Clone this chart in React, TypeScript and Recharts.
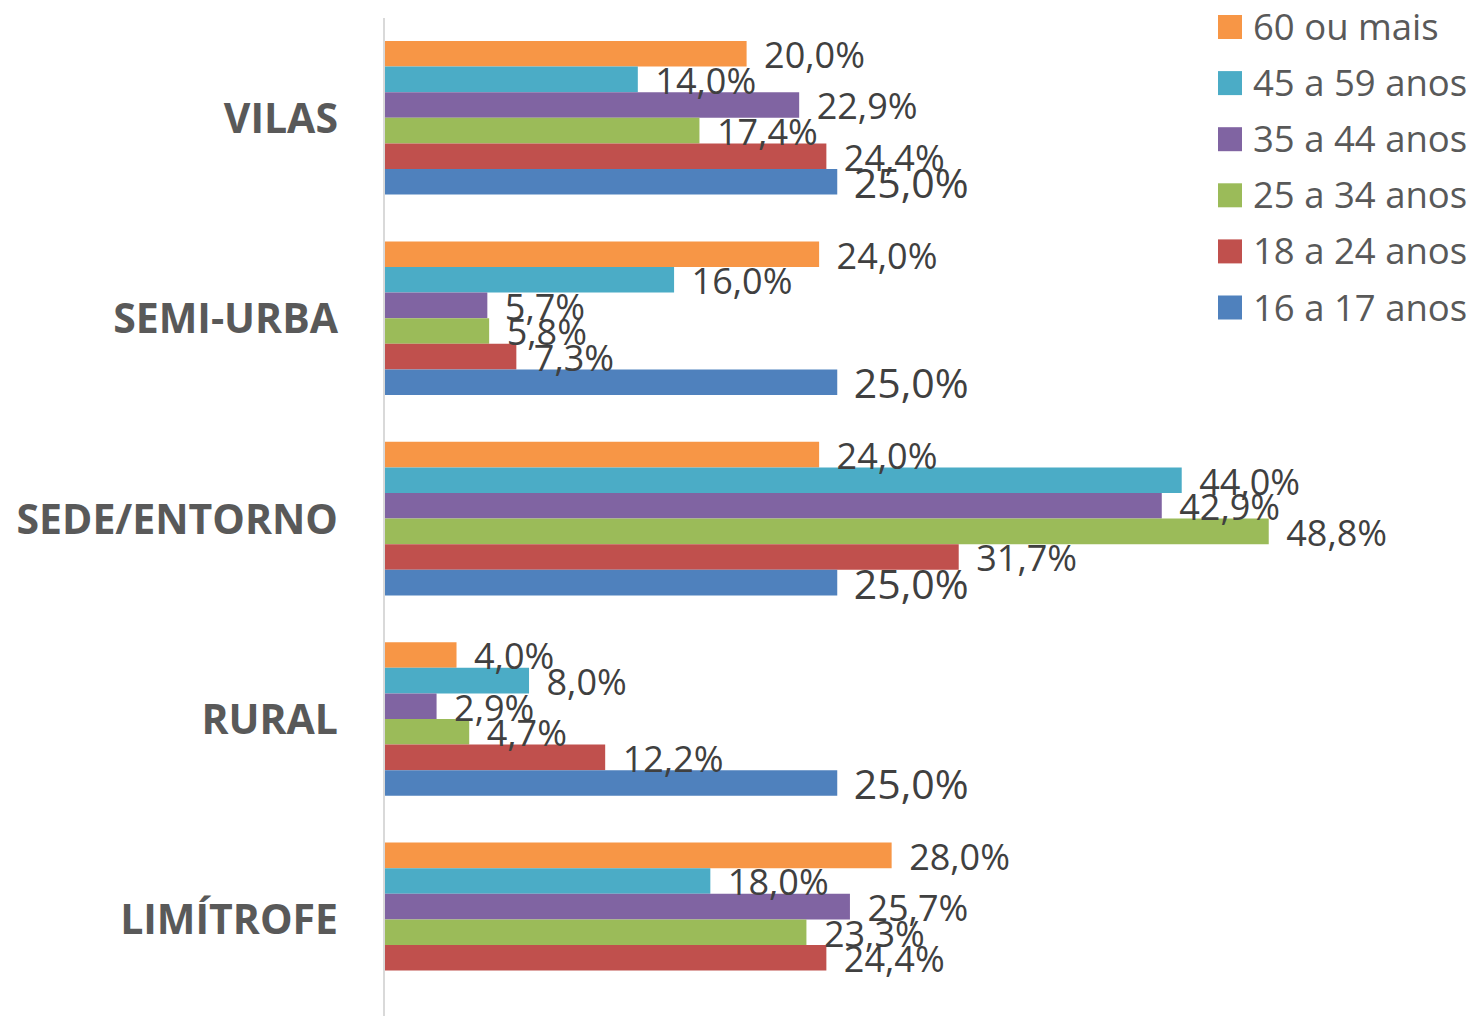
import React from 'react';
import { BarChart, Bar, XAxis, YAxis, LabelList } from 'recharts';

const categories = ['VILAS', 'SEMI-URBA', 'SEDE/ENTORNO', 'RURAL', 'LIMÍTROFE'];

const seriesNames = ['60 ou mais', '45 a 59 anos', '35 a 44 anos', '25 a 34 anos', '18 a 24 anos', '16 a 17 anos'];
const seriesKeys = ['s60', 's45', 's35', 's25', 's18', 's16'];
const seriesColors = ['#F79646', '#4BACC6', '#8064A2', '#9BBB59', '#C0504D', '#4F81BD'];

const s60 = [20.0, 24.0, 24.0, 4.0, 28.0];
const s45 = [14.0, 16.0, 44.0, 8.0, 18.0];
const s35 = [22.9, 5.7, 42.9, 2.9, 25.7];
const s25 = [17.4, 5.8, 48.8, 4.7, 23.3];
const s18 = [24.4, 7.3, 31.7, 12.2, 24.4];
const s16 = [25.0, 25.0, 25.0, 25.0, null];

const seriesValues = [s60, s45, s35, s25, s18, s16];

const data = categories.map((name, i) => {
    const row: any = { name };
    seriesKeys.forEach((k, j) => {
        row[k] = seriesValues[j][i];
    });
    return row;
});

const FONT = '"Open Sans", sans-serif';

const fmt = (v: number) => v.toFixed(1).replace('.', ',') + '%';

const makeLabel = (big: boolean) => (props: any) => {
    const { x, y, width, height, value } = props;
    if (value == null) return null;
    const size = big ? 41 : 36;
    const cy = Number(y) + Number(height) / 2 + 1.5;
    return (
        <text
            x={Number(x) + Number(width) + (big ? 16.5 : 17.5)}
            y={cy + size * 0.357}
            fill="#404040"
            fontSize={size}
            fontFamily={FONT}
        >
            {fmt(value)}
        </text>
    );
};

const CategoryTick = (props: any) => {
    const { y, payload } = props;
    return (
        <text
            x={338}
            y={y + 14.5}
            textAnchor="end"
            fill="#595959"
            fontSize={41}
            fontWeight="bold"
            fontFamily={FONT}
        >
            {payload.value}
        </text>
    );
};

export default function App() {
    return (
        <div style={{ position: 'absolute', left: 0, top: 0, width: 1477, height: 1016, overflow: 'hidden', background: '#fff' }}>
            <BarChart
                width={1477}
                height={1030}
                data={data}
                layout="vertical"
                margin={{ top: 18, right: 186.5, bottom: 10, left: 0 }}
                barSize={25.6}
                barGap={0}
            >
                <XAxis type="number" domain={[0, 50]} hide />
                <YAxis
                    type="category"
                    dataKey="name"
                    width={384}
                    tickLine={false}
                    axisLine={{ stroke: '#D9D9D9', strokeWidth: 2 }}
                    tick={<CategoryTick />}
                    interval={0}
                />
                {seriesKeys.map((k, j) => (
                    <Bar key={k} dataKey={k} name={seriesNames[j]} fill={seriesColors[j]} isAnimationActive={false}>
                        <LabelList dataKey={k} content={makeLabel(k === 's16')} />
                    </Bar>
                ))}
            </BarChart>
            <svg width={267} height={340} style={{ position: 'absolute', left: 1210, top: 0 }}>
                {seriesNames.map((n, i) => {
                    const cy = 27 + i * 56.1;
                    return (
                        <g key={n}>
                            <rect x={8} y={cy - 12} width={24} height={24} fill={seriesColors[i]} />
                            <text x={43} y={cy + 13} fill="#595959" fontSize={36.5} fontFamily={FONT}>
                                {n}
                            </text>
                        </g>
                    );
                })}
            </svg>
        </div>
    );
}
